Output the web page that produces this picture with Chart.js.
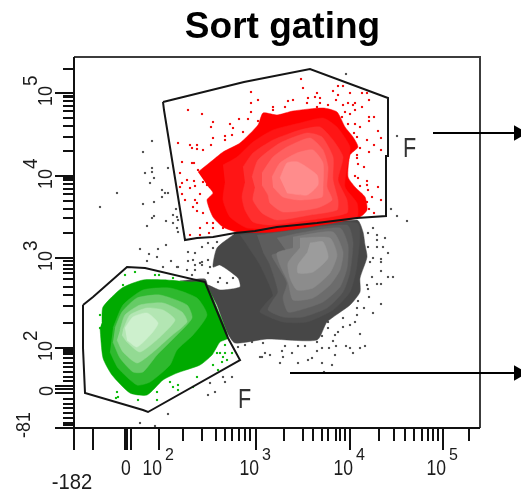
<!DOCTYPE html>
<html>
<head>
<meta charset="utf-8">
<style>html,body{margin:0;padding:0;background:#fff}canvas{display:block}</style>
<script src="https://cdn.jsdelivr.net/npm/chart.js@4"></script>
</head>
<body>
<canvas id="c" width="521" height="493"></canvas>
<script>
// All values are in display channels of the two biexponential axes.
const titleText = 'Sort gating';
const xRange = [0, 447];
const yRange = [0, 371];
const xFrameEnd = 406;

const xLongTicks = [0, 19, 51, 52, 53, 57, 85, 182, 276, 369];
const xShortTicks = [109,128,142,151,158,165,171,176, 210,229,239,248,254,262,266,271, 305,320,331,340,348,354,359,364, 395];
const yLongTicks = [335, 252, 170, 80, 42, 39, 35, 0];
const yShortTicks = [359, 332, 331,327,322,317,310,302,291,277, 250,248,244,239,234,227,219,210,195,
  167,163,159,155,149,141,133,122,105, 78,76,74,70,65,61,56,51,47, 29,24,20,15,10,5,3];

const xLabelValues = [0, 52, 85, 182, 276, 369];
const xLabelBases  = ['-182', '0', '10', '10', '10', '10'];
const xLabelSups   = ['', '', '2', '3', '4', '5'];
const yLabelValues = [0, 38, 80, 170, 252, 335];
const yLabelBases  = ['-81', '0', '10', '10', '10', '10'];
const yLabelSups   = ['', '', '2', '3', '4', '5'];

const gateLabel = 'F';
const gateLabelPoints = [[331, 281], [166, 30]];

const upperGate = [[89,326],[90,318],[111,188],[123,190],[139,191],[161,195],[181,197],[203,201],[243,205],[283,210],[312,212],[312,272],[314,272],[314,330],[236,359],[170,346],[89,326]];
const lowerGate = [[9,123],[9,80],[11,35],[69,18],[74,16],[166,68],[154,90],[131,146],[71,160],[53,161],[19,131],[9,123]];
const upperArrow = [[359,295],[444.5,295]];
const lowerArrow = [[216,55],[444.5,55]];

const redLevels = [
 [[124,256],[139,268],[149,276],[166,285],[184,303],[189,315],[203,313],[219,317],[249,320],[263,316],[271,301],[279,291],[284,281],[276,273],[274,251],[281,241],[291,231],[293,218],[286,211],[259,205],[199,196],[163,196],[149,201],[139,211],[133,228],[139,235],[133,243]],
 [[149,263],[163,271],[179,286],[199,298],[226,305],[249,310],[263,301],[276,281],[273,261],[271,241],[283,225],[283,211],[249,206],[199,200],[173,200],[156,211],[149,228],[151,245]],
 [[169,261],[179,275],[199,288],[226,298],[246,301],[259,288],[269,271],[264,248],[273,228],[273,215],[236,208],[196,203],[179,206],[171,218],[168,231],[171,245]],
 [[178,251],[184,268],[206,285],[233,295],[248,291],[259,271],[259,248],[264,228],[263,218],[236,213],[203,208],[188,215],[179,228],[181,240]],
 [[188,255],[199,271],[213,281],[236,290],[249,278],[254,261],[253,241],[258,228],[243,220],[209,216],[196,225],[194,233],[188,243]],
 [[198,251],[206,265],[223,275],[239,278],[249,265],[249,241],[248,231],[226,228],[209,231],[199,241]],
 [[206,250],[213,265],[224,266],[243,253],[244,243],[233,233],[213,235]]
];
const redColors = ['#ff0000','#ff1515','#ff2e2e','#ff4848','#ff6060','#ff7676','#ff8c8c'];

const grayLevels = [
 [[161,195],[283,208],[289,196],[291,183],[293,171],[286,150],[286,136],[276,123],[253,106],[243,88],[193,89],[161,85],[153,96],[143,123],[133,143],[146,138],[166,141],[164,150],[146,163],[139,161],[143,180],[159,193]],
 [[166,193],[283,205],[283,163],[276,136],[259,118],[233,106],[209,106],[186,116],[193,126],[199,133],[186,163],[173,183]],
 [[183,193],[273,203],[279,186],[276,156],[269,136],[253,120],[229,111],[209,111],[194,118],[199,128],[204,136],[196,163],[189,176]],
 [[203,190],[226,195],[266,200],[274,183],[273,160],[266,141],[249,126],[226,118],[214,116],[209,130],[213,145],[203,163],[198,173],[213,176]],
 [[219,191],[259,196],[269,176],[266,158],[256,143],[239,130],[219,128],[214,146],[206,163],[203,175],[219,180]],
 [[226,190],[256,190],[263,173],[256,155],[239,140],[223,138],[216,150],[214,165],[226,180]],
 [[236,185],[249,186],[254,170],[239,156],[224,155],[224,163],[233,175]]
];
const grayColors = ['#474747','#505050','#5d5d5d','#6c6c6c','#7c7c7c','#8c8c8c','#9c9c9c'];
const grayStrip = [[106,147],[131,149],[133,142],[116,145]];

const greenLevels = [
 [[28,106],[29,121],[48,140],[69,148],[93,148],[116,146],[131,145],[146,113],[154,90],[146,86],[138,73],[126,63],[103,55],[89,48],[73,33],[56,35],[38,53],[29,70],[26,100]],
 [[39,100],[49,123],[69,138],[96,140],[123,130],[133,113],[119,93],[103,78],[96,63],[76,46],[63,43],[44,60],[36,76]],
 [[41,100],[48,116],[63,130],[86,133],[113,123],[118,110],[103,93],[83,73],[69,56],[59,56],[46,70],[39,86]],
 [[46,98],[51,113],[66,123],[89,125],[108,116],[113,106],[96,91],[78,75],[63,65],[49,76],[43,88]],
 [[49,98],[56,113],[73,120],[89,118],[101,108],[86,91],[66,76],[53,86],[48,93]],
 [[51,100],[59,111],[73,115],[84,105],[78,95],[63,81],[53,88]]
];
const greenColors = ['#00aa00','#2eb92e','#66cb66','#93da93','#b3e6b3','#cdf0cd'];

const redDots = [[114,318],[128,314],[139,306],[137,301],[156,304],[159,300],[165,309],[174,309],[177,336],[177,325],[177,316],[184,328],[184,307],[139,290],[151,292],[158,293],[151,288],[169,296],[137,283],[129,278],[123,283],[116,283],[118,280],[123,279],[104,285],[108,266],[118,265],[120,265],[124,258],[106,255],[108,245],[113,248],[120,247],[129,246],[133,243],[116,240],[121,242],[136,241],[106,241],[108,234],[126,234],[111,228],[121,228],[123,225],[119,221],[129,215],[123,217],[133,205],[139,205],[126,200],[135,195],[116,193],[126,193],[149,200],[139,200],
 [227,349],[229,340],[243,335],[241,331],[234,330],[246,330],[233,325],[246,325],[254,323],[243,321],[219,328],[214,327],[211,321],[199,321],[199,318],[259,337],[264,342],[269,342],[264,333],[262,328],[276,335],[288,335],[293,335],[295,328],[274,325],[269,323],[281,325],[279,323],[288,321],[281,318],[271,316],[276,314],[268,311],[295,311],[295,307],[300,311],[274,304],[281,304],[286,301],[304,297],[280,295],[283,291],[293,288],[307,290],[300,283],[286,280],[307,278],[295,276],[283,273],[283,270],[284,264],[290,261],[281,252],[284,250],[293,247],[286,242],[293,243],[304,241],[294,238],[298,231],[307,228],[293,226],[295,219],[300,215]];

const grayDots = [[78,287],[69,276],[78,260],[78,256],[71,255],[80,250],[76,245],[94,260],[43,235],[26,221],[88,238],[91,235],[94,235],[88,231],[80,226],[69,224],[102,219],[99,213],[103,211],[104,208],[80,212],[78,210],[92,207],[99,205],[73,202],[103,200],[104,196],[66,179],[75,174],[84,179],[92,183],[83,171],[73,167],[97,167],[114,176],[121,175],[128,181],[134,185],[143,186],[139,180],[119,168],[128,166],[114,167],[103,161],[121,163],[128,163],[134,168],[153,183],
 [89,161],[104,161],[113,158],[121,158],[126,165],[136,161],[134,155],[146,150],[153,145],[144,146],[159,150],[118,153],[136,45],[149,51],[158,51],[134,33],[141,36],[94,14],[66,5],[81,2],[186,71],[164,81],[178,86],[171,83],[151,46],
 [307,166],[307,157],[298,151],[314,151],[319,151],[303,144],[307,144],[293,143],[294,139],[295,131],[307,124],[284,127],[290,120],[283,120],[299,115],[283,113],[269,110],[281,106],[276,103],[254,106],[269,101],[264,96],[261,93],[286,94],[254,100],[248,92],[259,87],[243,86],[262,82],[272,82],[276,80],[291,82],[286,80],[279,75],[255,80],[248,80],[243,77],[231,82],[224,82],[211,82],[218,75],[208,77],[209,71],[261,73],[248,65],[258,63],[238,70],[234,68],[224,65],[206,65],[196,73],[191,75],[188,71],[189,85],[250,56],
 [272,354],[323,292],[317,219],[323,212],[333,207],[299,200],[294,195],[303,193],[311,190],[303,188],[309,181],[294,181],[303,181],[314,175],[299,170],[307,169],[296,166]];

const greenDots = [[51,153],[61,156],[49,143],[81,153],[85,153],[99,150],[26,113],[26,100],[43,36],[44,31],[42,30],[64,28],[83,36],[83,28],[96,46],[99,41],[104,43],[104,38],[123,51],[119,41],[139,63],[144,58],[143,75],[146,75],[151,75],[151,83],[158,75],[153,68],[149,71],[148,66]];

const FONT = '"Liberation Sans", Arial, sans-serif';

function dots(data, color) {
  return {type:'scatter', data, showLine:false, pointStyle:'rect', pointRadius:1.5, pointBorderWidth:0, pointBackgroundColor:color};
}
function blob(data, color) {
  return {type:'scatter', data, showLine:true, fill:'shape', backgroundColor:color, borderColor:color, borderWidth:0.5, pointRadius:0, tension:0.2};
}
function gate(data) {
  return {type:'scatter', data, showLine:true, fill:false, borderColor:'#151515', borderWidth:2, pointRadius:0, tension:0};
}
function arrow(data) {
  return {type:'scatter', data, showLine:true, fill:false, borderColor:'#000', borderWidth:2, clip:false,
    pointStyle:'triangle', pointRotation:90, pointRadius:[0,9], pointBackgroundColor:'#000', pointBorderWidth:0};
}

const layers = [
  dots(grayDots, '#555555'),
  dots(redDots, '#f01010'),
  dots(greenDots, '#11bb11'),
  blob(grayStrip, grayColors[0]),
  ...grayLevels.map((d, i) => blob(d, grayColors[i])),
  ...redLevels.map((d, i) => blob(d, redColors[i])),
  ...greenLevels.map((d, i) => blob(d, greenColors[i])),
  gate(upperGate),
  gate(lowerGate),
  arrow(upperArrow),
  arrow(lowerArrow)
];
layers.forEach((d, i) => { d.order = layers.length - i; });

function stretched(ctx, text, px, py, size, sx, align, turned) {
  ctx.save();
  ctx.translate(px, py);
  if (turned) ctx.rotate(-Math.PI / 2);
  ctx.scale(sx, 1);
  ctx.textAlign = align;
  ctx.font = size + 'px ' + FONT;
  ctx.fillText(text, 0, 0);
  ctx.restore();
}

const axesPlugin = {
  id: 'flowAxes',
  afterLayout(chart) {
    chart.titleBlock.left -= 15;
    chart.titleBlock.right -= 15;
  },
  beforeDatasetsDraw(chart) {
    const {ctx, chartArea: a, scales: {x}} = chart;
    const right = x.getPixelForValue(xFrameEnd);
    ctx.save();
    ctx.lineWidth = 2;
    ctx.strokeStyle = '#3c3c3c';
    ctx.beginPath();
    ctx.moveTo(a.left, a.top); ctx.lineTo(right, a.top); ctx.lineTo(right, a.bottom);
    ctx.stroke();
    ctx.restore();
  },
  afterDatasetsDraw(chart) {
    const {ctx, chartArea: a, scales: {x, y}} = chart;
    const right = x.getPixelForValue(xFrameEnd);
    ctx.save();
    ctx.strokeStyle = '#111';
    ctx.lineWidth = 2;
    ctx.beginPath();
    ctx.moveTo(a.left, a.top); ctx.lineTo(a.left, a.bottom); ctx.lineTo(right, a.bottom);
    xLongTicks.forEach(v => { const p = x.getPixelForValue(v); ctx.moveTo(p, a.bottom); ctx.lineTo(p, a.bottom + 22); });
    xShortTicks.forEach(v => { const p = x.getPixelForValue(v); ctx.moveTo(p, a.bottom); ctx.lineTo(p, a.bottom + 13); });
    yLongTicks.forEach(v => { const p = y.getPixelForValue(v); ctx.moveTo(a.left, p); ctx.lineTo(a.left - 19, p); });
    yShortTicks.forEach(v => { const p = y.getPixelForValue(v); ctx.moveTo(a.left, p); ctx.lineTo(a.left - 11, p); });
    ctx.stroke();

    ctx.fillStyle = '#1c1c1c';
    ctx.textBaseline = 'alphabetic';
    xLabelValues.forEach((v, i) => {
      const p = x.getPixelForValue(v);
      if (xLabelSups[i]) {
        stretched(ctx, xLabelBases[i], p + 3, a.bottom + 47, 22, 0.8, 'right', false);
        stretched(ctx, xLabelSups[i], p + 6, a.bottom + 32, 16, 1, 'left', false);
      } else if (xLabelBases[i].length > 1) {
        stretched(ctx, xLabelBases[i], p - 2, a.bottom + 61, 22, 0.92, 'center', false);
      } else {
        stretched(ctx, xLabelBases[i], p, a.bottom + 47, 22, 0.8, 'center', false);
      }
    });
    yLabelValues.forEach((v, i) => {
      const p = y.getPixelForValue(v);
      if (yLabelSups[i]) {
        stretched(ctx, yLabelBases[i], a.left - 22, p + 13, 21, 0.85, 'left', true);
        stretched(ctx, yLabelSups[i], a.left - 37, p - 7, 21, 0.9, 'left', true);
      } else if (yLabelBases[i].length > 1) {
        stretched(ctx, yLabelBases[i], a.left - 44, p - 3, 21, 0.85, 'center', true);
      } else {
        stretched(ctx, yLabelBases[i], a.left - 21, p + 1, 21, 0.85, 'center', true);
      }
    });
    ctx.fillStyle = '#333';
    gateLabelPoints.forEach(pt => {
      stretched(ctx, gateLabel, x.getPixelForValue(pt[0]) - 2, y.getPixelForValue(pt[1]) + 10, 27, 0.8, 'left', false);
    });
    ctx.restore();
  }
};

new Chart(document.getElementById('c'), {
  type: 'scatter',
  data: {datasets: layers},
  plugins: [axesPlugin],
  options: {
    responsive: false,
    animation: false,
    events: [],
    layout: {autoPadding: false, padding: {left: 74, right: 0, top: 2, bottom: 65}},
    scales: {
      x: {type:'linear', min:xRange[0], max:xRange[1], display:false},
      y: {type:'linear', min:yRange[0], max:yRange[1], display:false}
    },
    plugins: {
      legend: {display:false},
      tooltip: {enabled:false},
      title: {display:true, text:titleText, fullSize:false, color:'#000',
        font:{family:FONT, size:37, weight:'bold', lineHeight:1.2}, padding:{top:4, bottom:6.6}}
    }
  }
});
</script>
</body>
</html>
